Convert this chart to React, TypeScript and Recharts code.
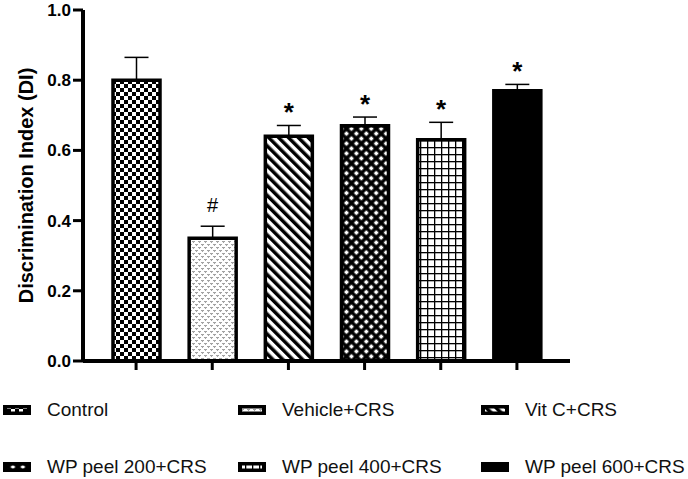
import React from 'react'
import { BarChart, Bar, XAxis, YAxis, Cell, ErrorBar, LabelList } from 'recharts'

const groups = ['Control', 'Vehicle+CRS', 'Vit C+CRS', 'WP peel 200+CRS', 'WP peel 400+CRS', 'WP peel 600+CRS']
const means = [0.8, 0.35, 0.64, 0.67, 0.63, 0.77]
const sems = [0.065, 0.034, 0.031, 0.025, 0.05, 0.018]
const marks = ['', '#', '*', '*', '*', '*']
const yTicks = [0, 0.2, 0.4, 0.6, 0.8, 1.0]

const fills = ['url(#pCheck)', 'url(#pDots)', 'url(#pStripe)', 'url(#pDiamond)', 'url(#pGrid)', '#000']

const data = groups.map((name, i) => ({ name, value: means[i], err: [0, sems[i]], mark: marks[i] }))

const font = 'Arial, "Liberation Sans", Helvetica, sans-serif'

const Patterns = () => (
  <svg width="0" height="0" style={{ position: 'absolute' }}>
    <defs>
      <pattern id="pCheck" width="8" height="8" patternUnits="userSpaceOnUse">
        <rect width="8" height="8" fill="#fff" />
        <rect width="4" height="4" fill="#000" />
        <rect x="4" y="4" width="4" height="4" fill="#000" />
      </pattern>
      <pattern id="pDots" width="6" height="6" patternUnits="userSpaceOnUse">
        <rect width="6" height="6" fill="#fff" />
        <path d="M0.5 1 L1.5 2.4 L2.5 1" stroke="#444" strokeWidth="0.8" fill="none" />
        <path d="M3.5 4 L4.5 5.4 L5.5 4" stroke="#444" strokeWidth="0.8" fill="none" />
      </pattern>
      <pattern id="pStripe" width="7" height="7" patternUnits="userSpaceOnUse" patternTransform="rotate(-45)">
        <rect width="7" height="7" fill="#fff" />
        <rect width="3.5" height="7" fill="#000" />
      </pattern>
      <pattern id="pDiamond" width="7" height="7" patternUnits="userSpaceOnUse" patternTransform="rotate(45)">
        <rect width="7" height="7" fill="#000" />
        <rect x="1.7" y="1.7" width="3.6" height="3.6" fill="#fff" />
      </pattern>
      <pattern id="pGrid" width="7" height="7" patternUnits="userSpaceOnUse">
        <rect width="7" height="7" fill="#fff" />
        <rect width="7" height="1.3" fill="#000" />
        <rect width="1.3" height="7" fill="#000" />
      </pattern>
    </defs>
  </svg>
)

const renderMark = (props: any) => {
  const { x, y, width, height, value, index } = props
  if (!value) return null
  const errPx = (height * sems[index]) / means[index]
  const top = y - errPx
  const star = value === '*'
  return (
    <text x={x + width / 2} y={top - (star ? 4 : 14)} textAnchor="middle" fontSize={star ? 26 : 20}
      fontWeight={star ? 'bold' : 'normal'} fontFamily={font} fill="#000">
      {value}
    </text>
  )
}

const renderYLabel = (props: any) => {
  const { viewBox } = props
  const cx = viewBox.x + 26
  const cy = viewBox.y + viewBox.height / 2
  return (
    <text x={cx} y={cy} transform={`rotate(-90 ${cx} ${cy})`} textAnchor="middle" dominantBaseline="central"
      fontSize={20} fontWeight="bold" fontFamily={font} fill="#000">
      Discrimination Index (DI)
    </text>
  )
}

const legendCols = [3, 238, 481]
const legendRows = [410, 467]

const App = () => {
  return (
    <div style={{ position: 'absolute', left: 0, top: 0, width: 688, height: 479, background: '#fff', fontFamily: font }}>
      <Patterns />
      <BarChart width={688} height={479} data={data} margin={{ top: 10, right: 118, bottom: 98, left: 0 }}>
        <XAxis dataKey="name" height={20} tickFormatter={() => ''} padding={{ left: 15, right: 15 }}
          axisLine={{ stroke: '#000', strokeWidth: 4 }} tickLine={{ stroke: '#000', strokeWidth: 3 }} tickSize={9} />
        <YAxis type="number" domain={[0, 1]} ticks={yTicks} width={83} allowDataOverflow
          tickFormatter={(v: number) => v.toFixed(1)}
          tick={{ fill: '#000', fontSize: 17, fontWeight: 'bold', fontFamily: font }}
          axisLine={{ stroke: '#000', strokeWidth: 4 }} tickLine={{ stroke: '#000', strokeWidth: 3 }} tickSize={10}
          label={{ content: renderYLabel }} />
        <Bar dataKey="value" barSize={47} stroke="#000" strokeWidth={3.5} isAnimationActive={false}>
          {data.map((d, i) => (
            <Cell key={d.name} fill={fills[i]} />
          ))}
          <ErrorBar dataKey="err" direction="y" width={12} stroke="#000" strokeWidth={1.5} />
          <LabelList dataKey="mark" content={renderMark} />
        </Bar>
      </BarChart>
      {groups.map((g, i) => {
        const col = i % 3
        const row = Math.floor(i / 3)
        return (
          <div key={g} style={{ position: 'absolute', left: legendCols[col], top: legendRows[row] - 12, height: 24, display: 'flex', alignItems: 'center' }}>
            <svg width={28} height={10} style={{ display: 'block' }}>
              <rect x={0} y={0} width={28} height={10} fill="#000" />
              {i < 5 && <rect x={4} y={3.5} width={20} height={3} fill={fills[i]} />}
            </svg>
            <span style={{ marginLeft: 16, fontSize: 19, color: '#111', whiteSpace: 'nowrap' }}>{g}</span>
          </div>
        )
      })}
    </div>
  )
}

export default App
